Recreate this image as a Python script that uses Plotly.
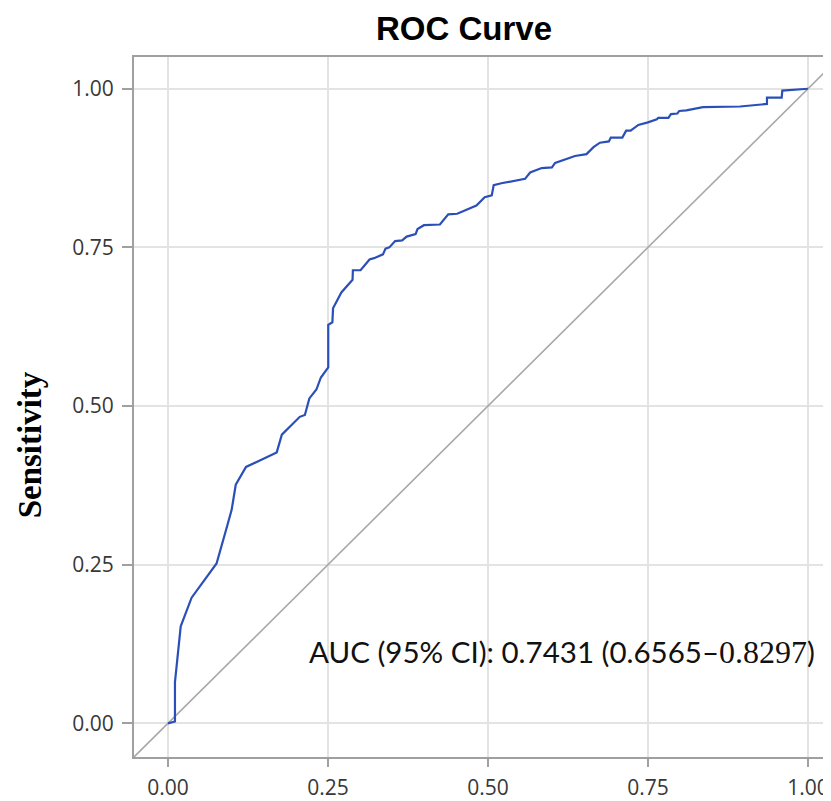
import plotly.graph_objects as go

# ROC curve points (1 - specificity, sensitivity)
fpr = [0.0, 0.011, 0.011, 0.016, 0.020, 0.037, 0.076, 0.093, 0.0995, 0.106, 0.122, 0.170, 0.178,
       0.206, 0.214, 0.221, 0.232, 0.239, 0.2505, 0.2505, 0.257, 0.258, 0.271, 0.2885, 0.289,
       0.301, 0.315, 0.322, 0.336, 0.340, 0.346, 0.355, 0.366, 0.373, 0.387, 0.390, 0.400,
       0.425, 0.438, 0.452, 0.472, 0.482, 0.495, 0.506, 0.509, 0.521, 0.558, 0.566, 0.584,
       0.600, 0.605, 0.622, 0.636, 0.654, 0.665, 0.675, 0.689, 0.692, 0.710, 0.716, 0.723,
       0.735, 0.750, 0.764, 0.766, 0.782, 0.786, 0.796, 0.799, 0.810, 0.823, 0.836, 0.894,
       0.925, 0.936, 0.936, 0.959, 0.960, 1.0]
tpr = [0.0, 0.003, 0.065, 0.117, 0.153, 0.198, 0.252, 0.3125, 0.336, 0.376, 0.404, 0.427, 0.455,
       0.483, 0.486, 0.512, 0.526, 0.545, 0.561, 0.628, 0.632, 0.654, 0.679, 0.699, 0.714,
       0.714, 0.731, 0.733, 0.739, 0.748, 0.750, 0.760, 0.761, 0.767, 0.771, 0.779, 0.785,
       0.786, 0.802, 0.803, 0.811, 0.816, 0.829, 0.832, 0.848, 0.851, 0.858, 0.868, 0.875,
       0.876, 0.883, 0.889, 0.894, 0.897, 0.908, 0.915, 0.917, 0.923, 0.923, 0.934, 0.934,
       0.943, 0.947, 0.952, 0.954, 0.954, 0.960, 0.961, 0.965, 0.966, 0.968, 0.971, 0.972,
       0.975, 0.976, 0.986, 0.986, 0.997, 1.0]

ref_line = [-0.053, 1.06]
tick_vals = [0.0, 0.25, 0.5, 0.75, 1.0]
tick_text = ["0.00", "0.25", "0.50", "0.75", "1.00"]
title_text = "ROC Curve"
y_title = "Sensitivity"
auc_label = "AUC (95% CI): 0.7431 (0.6565–"
auc_upper = "0.8297"

# page has an 8px body margin; figure is sized so it fills the window
W, H = 823, 793
L, T, B = 126, 49, 32
pw = W - L
ph = H - T - B

fig = go.Figure()
fig.add_trace(go.Scatter(x=ref_line, y=ref_line, mode="lines",
                         line=dict(color="#a8a8a8", width=1.6), hoverinfo="skip",
                         showlegend=False))
fig.add_trace(go.Scatter(x=fpr, y=tpr, mode="lines",
                         line=dict(color="#2a50b8", width=2.2), showlegend=False))

fig.add_annotation(x=0.217, y=0.112, xref="x", yref="y", xanchor="left", yanchor="middle",
                   showarrow=False,
                   text=auc_label + "<span style='font-family:Liberation Serif;font-size:32px'>"
                        + auc_upper + "</span>)",
                   font=dict(family="Lato", size=29.5, color="#111111"))

fig.add_annotation(x=(22 - L) / pw, y=(H - B - 7 - 437) / ph, xref="paper", yref="paper",
                   text="<b>" + y_title + "</b>",
                   textangle=-90, showarrow=False, xanchor="center", yanchor="middle",
                   font=dict(family="Liberation Serif", size=33, color="#000000"))

fig.update_layout(
    width=W, height=H,
    margin=dict(l=L, r=0, t=T, b=B),
    plot_bgcolor="white", paper_bgcolor="white",
    title=dict(text="<b>" + title_text + "</b>", x=456 / W, xref="container", xanchor="center",
               y=1 - 20 / H, yref="container", yanchor="middle",
               font=dict(family="Liberation Sans", size=33, color="#000000")),
    xaxis=dict(range=[-0.053, -0.053 + pw / 640], tickvals=tick_vals, ticktext=tick_text,
               showgrid=True, gridcolor="#e3e3e3", gridwidth=1.5, zeroline=False,
               showline=True, linecolor="#a0a0a0", linewidth=2, mirror=True,
               ticks="outside", ticklen=8, tickcolor="#a0a0a0", tickwidth=1.5,
               ticklabelstandoff=3,
               tickfont=dict(family="Open Sans", size=21, color="#383838")),
    yaxis=dict(range=[-0.053, 1.05], tickvals=tick_vals, ticktext=tick_text,
               showgrid=True, gridcolor="#e3e3e3", gridwidth=1.5, zeroline=False,
               showline=True, linecolor="#a0a0a0", linewidth=2,
               ticks="outside", ticklen=10, tickcolor="#a0a0a0", tickwidth=1.5,
               ticklabelstandoff=4,
               tickfont=dict(family="Open Sans", size=21, color="#383838")),
)

fig.write_html("out.html")
